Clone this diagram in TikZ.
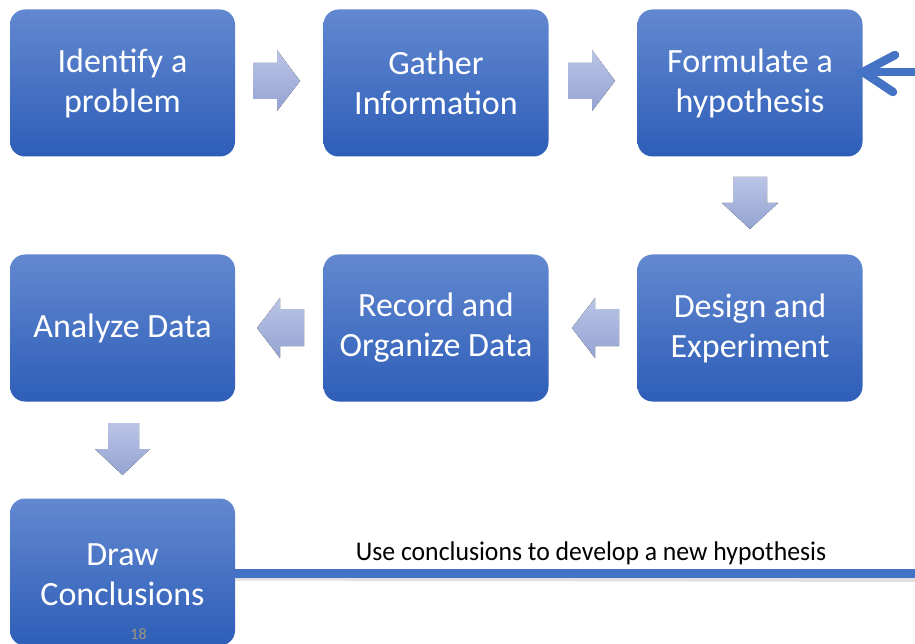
\documentclass[tikz,border=0pt]{standalone}
\usepackage{fontspec}
\setmainfont{Carlito}
\usetikzlibrary{calc}
\definecolor{boxtop}{RGB}{98,136,208}
\definecolor{boxbot}{RGB}{46,94,184}
\definecolor{arrtop}{RGB}{186,196,230}
\definecolor{arrbot}{RGB}{148,163,209}
\definecolor{linkblue}{RGB}{68,114,196}
\definecolor{pagenum}{RGB}{160,150,125}
\tikzset{
  stepbox/.style={rounded corners=15pt, minimum width=225pt, minimum height=147pt,
    top color=boxtop, bottom color=boxbot, draw=none, text=white, align=center,
    font=\fontsize{34}{40}\selectfont, inner sep=0pt},
  steptext/.style={text=white, align=center, font=\fontsize{34}{40}\selectfont, inner sep=0pt},
  blockarrow/.style={top color=arrtop, bottom color=arrbot, draw=none},
  feedback/.style={draw=linkblue, line width=8.5pt},
}
\begin{document}
\begin{tikzpicture}[x=1pt,y=-1pt]
\useasboundingbox (0,0) rectangle (915,644);
\fill[white] (0,0) rectangle (915,644);
% boxes
\node[stepbox] (idp) at (122.5,83) {Identify a\\problem};
\node[stepbox] (gin) at (436,83) {Gather\\Information};
\node[stepbox] (hyp) at (750,83) {Formulate a\\hypothesis};
\node[stepbox] (des) at (750,328) {Design and\\Experiment};
\node[stepbox] (rec) at (436,328) {Record and\\Organize Data};
\node[stepbox] (ana) at (122.5,328) {Analyze Data};
\node[stepbox] (drc) at (122.5,572) {};
\node[steptext] (drct) at (122.5,575) {Draw\\Conclusions};
\node[text=pagenum, font=\fontsize{16}{18}\selectfont, inner sep=0pt] (pg) at (138.5,634) {18};
% block arrows
\fill[blockarrow] (253,63) -- (277,63) -- (277,50) -- (300,81) -- (277,111) -- (277,99) -- (253,99) -- cycle;
\fill[blockarrow] (568,63) -- (592,63) -- (592,50) -- (615,81) -- (592,111) -- (592,99) -- (568,99) -- cycle;
\fill[blockarrow] (733,177) -- (767,177) -- (767,203) -- (778,203) -- (750,229) -- (722,203) -- (733,203) -- cycle;
\fill[blockarrow] (619,309) -- (595,309) -- (595,298) -- (572,328) -- (595,358) -- (595,346) -- (619,346) -- cycle;
\fill[blockarrow] (304,309) -- (280,309) -- (280,298) -- (257,328) -- (280,358) -- (280,346) -- (304,346) -- cycle;
\fill[blockarrow] (108,423) -- (139,423) -- (139,449) -- (150,449) -- (122.5,475) -- (95,449) -- (108,449) -- cycle;
% feedback connector
\coordinate (fbr) at (960,573.5);
\coordinate (hin) at (863,72);
\draw[black!20, line width=5pt, opacity=0.6] ($(drc.east)+(0,6)$) -- (915,579.5);
\draw[feedback] (drc.east |- fbr) -- (fbr) -- (960,72) -- (hin);
\draw[feedback, line cap=round] (895,55) -- (hin) -- (893,92);
\node[font=\fontsize{27}{30}\selectfont, inner sep=0pt, anchor=base, xscale=0.953] (lbl) at (591,560) {Use conclusions to develop a new hypothesis};
\end{tikzpicture}
\end{document}
